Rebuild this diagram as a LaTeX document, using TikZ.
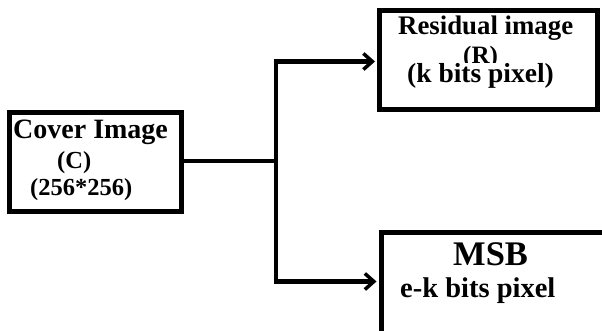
\documentclass[tikz,border=0pt]{standalone}
\usepackage{fontspec}
\setmainfont{Liberation Serif}
\usetikzlibrary{arrows.meta}
\begin{document}
\begin{tikzpicture}[x=1pt,y=-1pt,
  block/.style={draw=black,line width=5pt,fill=white,inner sep=0pt,anchor=center},
  wire/.style={draw=black,line width=4.5pt,line join=miter},
  label/.style={anchor=base west,inner sep=0pt,font=\bfseries}]
  \useasboundingbox (0,0) rectangle (602,331);
  \clip (0,0) rectangle (602,331);

  % boxes
  \node[block,minimum width=172pt,minimum height=98.5pt] (cover) at (95.5,161.75) {};
  \node[block,minimum width=218pt,minimum height=99pt] (resid) at (488.5,60) {};
  \node[block,minimum width=260pt,minimum height=130pt] (msb) at (511,297) {};

  % cover image text
  \node[label,font=\bfseries\fontsize{28}{30}\selectfont] (t1) at (13,139) {Cover Image};
  \node[label,font=\bfseries\fontsize{24.5}{26}\selectfont] (t2) at (57,169) {(C)};
  \node[label,font=\bfseries\fontsize{24.5}{26}\selectfont] (t3) at (30,196) {(256*256)};

  % residual image text; the middle line is cut off by the line below it
  \node[label,font=\bfseries\fontsize{26.8}{28}\selectfont] (t4) at (398,35) {Residual image};
  \begin{scope}
    \clip (440,40) rectangle (520,62.5);
    \node[label,font=\bfseries\fontsize{25}{27}\selectfont] (t5) at (463,63.5) {(R)};
  \end{scope}
  \node[label,font=\bfseries\fontsize{27.5}{29}\selectfont] (t6) at (407,83) {(k bits pixel)};

  % MSB text
  \node[label,font=\bfseries\fontsize{34.5}{36}\selectfont] (t7) at (453,265) {MSB};
  \node[label,font=\bfseries\fontsize{28.5}{30}\selectfont] (t8) at (400,297) {e-k bits pixel};

  % connectors
  \coordinate (jm) at (276,161);
  \coordinate (jt) at (276,61.5);
  \coordinate (jb) at (276,281.5);
  \coordinate (et) at ([xshift=-2pt]resid.west |- jt);
  \coordinate (eb) at ([xshift=-2pt]msb.west |- jb);
  \draw[wire] (cover.east |- jm) -- (jm);
  \draw[wire,{Straight Barb[length=9pt,width=16pt,line width=3.5pt]}-{Straight Barb[length=9pt,width=16pt,line width=3.5pt]}]
    (et) -- (jt) -- (jb) -- (eb);
\end{tikzpicture}
\end{document}
